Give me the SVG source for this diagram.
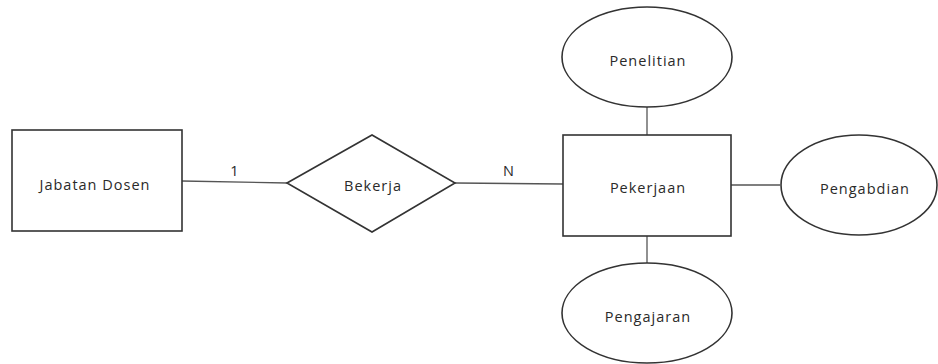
<svg xmlns="http://www.w3.org/2000/svg" width="938" height="364" viewBox="0 0 938 364">
<style>
.shape{fill:#fff;stroke:#333;stroke-width:1.6}
.conn{stroke:#555;stroke-width:1.3;fill:none}
text{font-family:"Open Sans","Liberation Sans",sans-serif;font-size:14.5px;letter-spacing:1px;fill:#2a2a2a;text-anchor:middle;dominant-baseline:central}
</style>
<rect width="938" height="364" fill="#fff"/>
<g id="connectors">
<line class="conn" x1="182" y1="181" x2="287" y2="183"/>
<line class="conn" x1="455" y1="183" x2="563" y2="184"/>
<line class="conn" x1="647" y1="107" x2="647" y2="135"/>
<line class="conn" x1="647" y1="236" x2="647" y2="263"/>
<line class="conn" x1="731" y1="185" x2="780" y2="185"/>
<text x="235" y="170">1</text>
<text x="509" y="170">N</text>
</g>
<g id="jabatan-dosen">
<rect class="shape" x="12" y="130" width="170" height="101"/>
<text x="95" y="184">Jabatan Dosen</text>
</g>
<g id="bekerja">
<polygon class="shape" points="287,183 372,135 455,183 372,232"/>
<text x="373" y="185">Bekerja</text>
</g>
<g id="pekerjaan">
<rect class="shape" x="563" y="135" width="168" height="101"/>
<text x="648" y="187">Pekerjaan</text>
</g>
<g id="penelitian">
<ellipse class="shape" cx="647" cy="57" rx="85" ry="50"/>
<text x="648" y="60">Penelitian</text>
</g>
<g id="pengabdian">
<ellipse class="shape" cx="859" cy="185" rx="78" ry="50"/>
<text x="865" y="188">Pengabdian</text>
</g>
<g id="pengajaran">
<ellipse class="shape" cx="647" cy="313" rx="85" ry="50"/>
<text x="648" y="316">Pengajaran</text>
</g>
</svg>
